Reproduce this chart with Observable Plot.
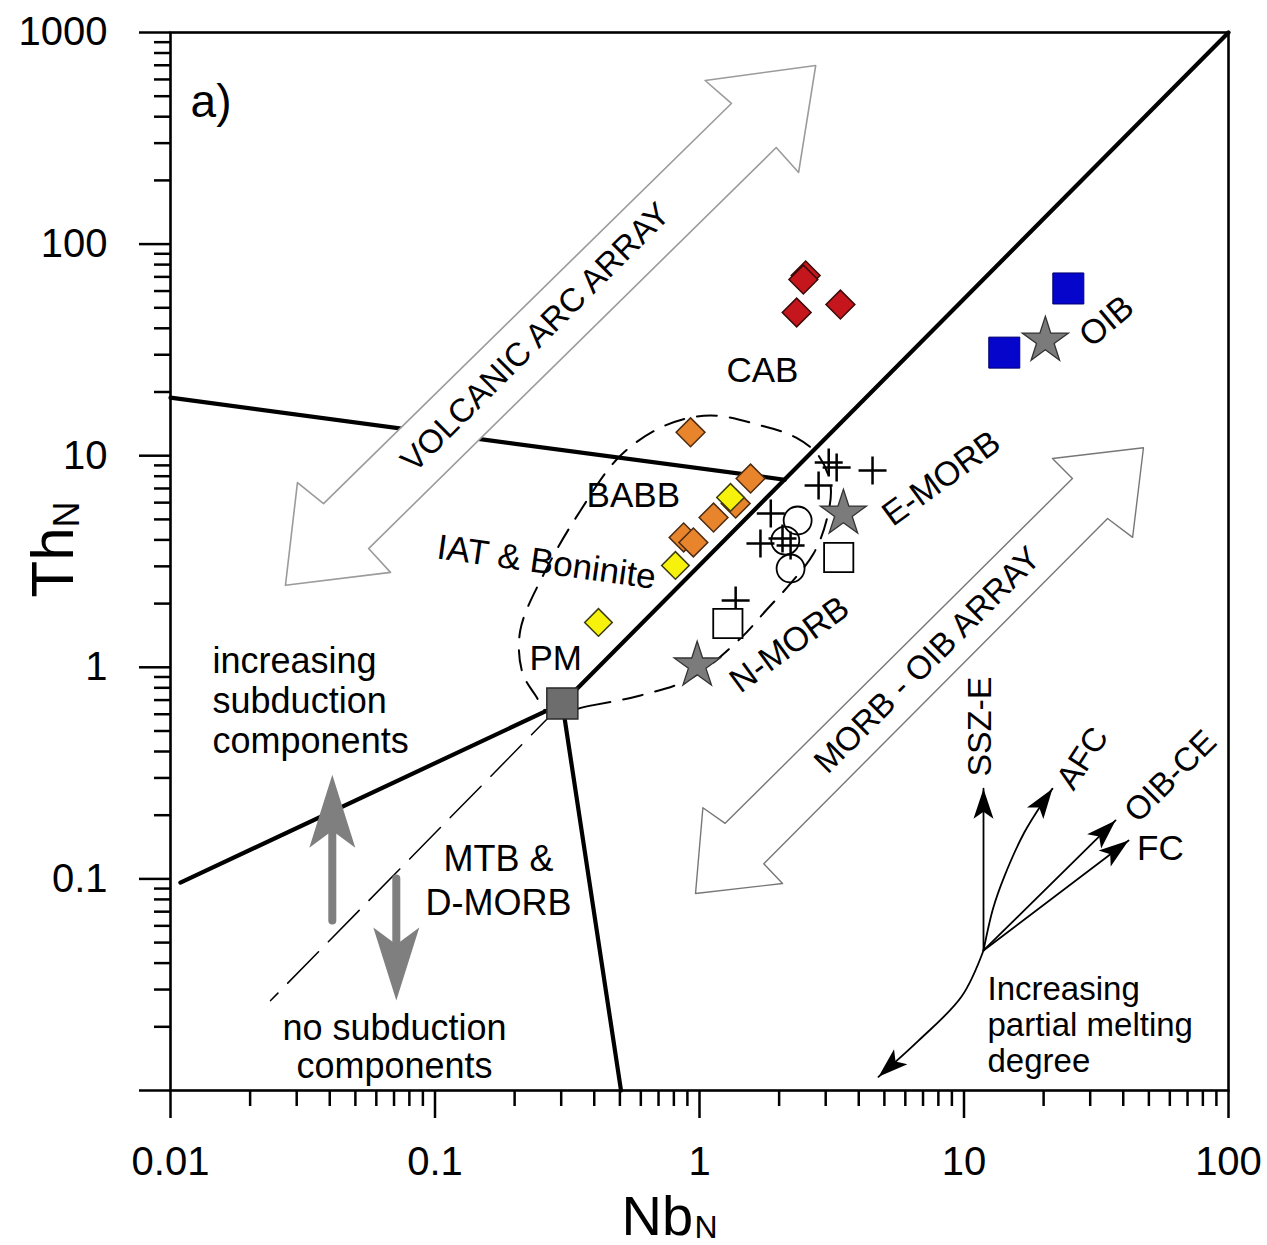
<!DOCTYPE html>
<html>
<head>
<meta charset="utf-8">
<script src="https://cdn.jsdelivr.net/npm/d3@7"></script>
<script src="https://cdn.jsdelivr.net/npm/@observablehq/plot@0.6"></script>
<style>
  html, body { margin: 0; padding: 0; background: #fff; }
  svg { display: block; }
</style>
</head>
<body>
<script>
// ---------------- axes ----------------
const xTicks = [0.01, 0.1, 1, 10, 100];
const xTickLabels = ["0.01", "0.1", "1", "10", "100"];
const yTicks = [0.01, 0.1, 1, 10, 100, 1000];
const yTickLabels = ["", "0.1", "1", "10", "100", "1000"];
const minorSteps = [2, 3, 4, 5, 6, 7, 8, 9];
const xDecades = [0.01, 0.1, 1, 10];
const yDecades = [0.01, 0.1, 1, 10, 100];

// ---------------- samples (NbN, ThN) ----------------
const cabNb = [2.52, 2.47, 2.33, 3.41];
const cabTh = [71.1, 68.0, 47.5, 51.8];
const babbNb = [0.925, 1.56, 1.37, 1.13, 0.871, 0.948];
const babbTh = [12.9, 7.80, 5.94, 5.10, 4.11, 3.89];
const iatNb = [1.31, 0.811, 0.415];
const iatTh = [6.35, 3.03, 1.63];
const oibSampleNb = [24.8, 14.2];
const oibSampleTh = [61.7, 30.7];
const crossNb = [3.08, 4.51, 3.30, 2.82, 1.86, 1.70, 2.06, 2.21, 1.37];
const crossTh = [9.29, 8.51, 8.80, 7.23, 5.33, 3.85, 4.06, 3.76, 2.07];
const circleNb = [2.35, 2.11, 2.21];
const circleTh = [4.94, 3.97, 2.93];
const openSquareNb = [3.36, 1.28];
const openSquareTh = [3.30, 1.61];
const refNames = ["N-MORB", "E-MORB", "OIB"];
const refNb = [0.98, 3.50, 20.3];
const refTh = [1.02, 5.33, 35.0];
const pmNb = [0.303];
const pmTh = [0.675];

// ---------------- boundary lines ----------------
const diagNb = [0.303, 100], diagTh = [0.675, 1000];
const upperNb = [0.01, 2.1], upperTh = [18.8, 7.7];
const lowerNb = [0.0109, 0.303], lowerTh = [0.096, 0.675];
const steepNb = [0.303, 0.505], steepTh = [0.675, 0.01];
const mtbNb = [0.303, 0.0239], mtbTh = [0.675, 0.0266];

// dashed field (closed curve)
const fieldNb = [0.268, 0.388, 0.598, 0.925, 1.43, 1.78, 2.21, 2.70, 3.02, 3.13, 2.82, 2.31, 1.70, 1.10, 0.743, 0.502, 0.355, 0.262, 0.210, 0.214, 0.240];
const fieldTh = [0.611, 0.659, 0.736, 0.885, 1.37, 1.85, 2.49, 3.45, 4.94, 7.23, 10.0, 12.2, 13.9, 15.5, 13.9, 10.0, 5.51, 2.87, 1.49, 0.944, 0.736];

// hollow double arrows (outline vertices)
const vaaNb = [2.75, 2.37, 1.95, 0.0561, 0.0679, 0.0272, 0.0302, 0.0379, 1.32, 1.05];
const vaaTh = [698, 218, 286, 3.64, 2.81, 2.44, 7.47, 5.94, 462, 593];
const moaNb = [47.7, 43.4, 34.9, 1.75, 2.06, 0.966, 1.03, 1.25, 25.7, 21.6];
const moaTh = [10.9, 4.11, 5.05, 0.118, 0.0951, 0.0853, 0.217, 0.183, 7.80, 9.70];

// vectors
const sszNb = [11.85, 11.85], sszTh = [0.0459, 0.267];
const afcNb = [11.85, 12.88, 14.2, 16.9, 20.1, 21.6], afcTh = [0.0459, 0.0725, 0.1026, 0.1657, 0.235, 0.267];
const oibceNb = [11.85, 37.4], oibceTh = [0.0459, 0.189];
const fcNb = [11.85, 41.9], fcTh = [0.0459, 0.152];
const meltNb = [11.85, 9.79, 6.73, 4.75], meltTh = [0.0459, 0.0278, 0.0172, 0.0116];
const upShaftNb = [0.0409, 0.0409], upShaftTh = [0.0636, 0.17];
const upTipNb = [0.0409], upTipTh = [0.311];
const downShaftNb = [0.0714, 0.0714], downShaftTh = [0.1004, 0.05];
const downTipNb = [0.0714], downTipTh = [0.0266];

// ---------------- labels ----------------
const plainLabels = ["CAB", "BABB", "PM", "FC"];
const plainNb = [1.73, 0.562, 0.286, 55.3];
const plainTh = [25.3, 6.48, 1.10, 0.139];
const rotLabels = ["VOLCANIC ARC ARRAY", "MORB - OIB ARRAY", "E-MORB", "N-MORB", "OIB", "IAT & Boninite", "SSZ-E", "AFC", "OIB-CE"];
const rotNb = [0.240, 7.28, 8.22, 2.19, 34.6, 0.264, 11.5, 28.1, 60.4];
const rotTh = [36.2, 1.08, 7.80, 1.28, 43.1, 3.13, 0.525, 0.371, 0.305];
const blockLabels = ["increasing\nsubduction\ncomponents", "MTB &\nD-MORB", "no subduction\ncomponents", "Increasing\npartial melting\ndegree"];
const blockNb = [0.01442, 0.1738, 0.0703, 12.27];
const blockTh = [0.697, 0.1004, 0.01603, 0.0205];
const panelLabel = ["a)"], panelNb = [0.01191], panelTh = [467];

// ---------------- layout ----------------
const W = 1267, H = 1245;
const M = {left: 170, right: 39, top: 32, bottom: 155};
const FONT = '"Liberation Sans", Arial, Helvetica, sans-serif';
const xDomain = [0.01, 100], yDomain = [0.01, 1000];

const sx = Plot.scale({x: {type: "log", domain: xDomain, range: [M.left, W - M.right]}});
const sy = Plot.scale({y: {type: "log", domain: yDomain, range: [H - M.bottom, M.top]}});
function angle(x0, y0, x1, y1) {
  const dx = sx.apply(x1) - sx.apply(x0);
  const dy = sy.apply(y1) - sy.apply(y0);
  return Math.atan2(dx, -dy) * 180 / Math.PI;
}
const vectorPaths = [[sszNb, sszTh], [afcNb, afcTh], [oibceNb, oibceTh], [fcNb, fcTh], [meltNb, meltTh]];
const heads = vectorPaths.map(([xs, ys]) => {
  const n = xs.length;
  return {nb: xs[n - 1], th: ys[n - 1], angle: angle(xs[n - 2], ys[n - 2], xs[n - 1], ys[n - 1])};
});

const thinHead = {draw(ctx) { ctx.moveTo(0, 0); ctx.lineTo(10, 30); ctx.lineTo(0, 23); ctx.lineTo(-10, 30); ctx.closePath(); }};
const bigHead = {draw(ctx) { ctx.moveTo(0, 0); ctx.lineTo(23, 73); ctx.lineTo(0, 56); ctx.lineTo(-23, 73); ctx.closePath(); }};
const crossSym = {draw(ctx, size) { const r = Math.sqrt(size / Math.PI); ctx.moveTo(-r, 0); ctx.lineTo(r, 0); ctx.moveTo(0, -r); ctx.lineTo(0, r); }};

const idx = (a) => a.map((_, i) => i);
const line = (xs, ys, o) => Plot.line(idx(xs), {x: xs, y: ys, ...o});
const dots = (xs, ys, o) => Plot.dot(idx(xs), {x: xs, y: ys, ...o});

const xMinor = xDecades.flatMap(d => minorSteps.map(k => d * k));
const yMinor = yDecades.flatMap(d => minorSteps.map(k => d * k));

const rotStyle = [
  {rotate: -45, fontSize: 33}, {rotate: -45, fontSize: 33}, {rotate: -36, fontSize: 34},
  {rotate: -36, fontSize: 34}, {rotate: -40, fontSize: 34}, {rotate: 8, fontSize: 35},
  {rotate: -90, fontSize: 34}, {rotate: -57, fontSize: 33}, {rotate: -45, fontSize: 33}
];
const blockStyle = [
  {textAnchor: "start", lineHeight: 1.11, fontSize: 36},
  {textAnchor: "middle", lineHeight: 1.22, fontSize: 36},
  {textAnchor: "middle", lineHeight: 1.05, fontSize: 36},
  {textAnchor: "start", lineHeight: 1.08, fontSize: 33}
];

const chart = Plot.plot({
  width: W, height: H,
  marginLeft: M.left, marginRight: M.right, marginTop: M.top, marginBottom: M.bottom,
  x: {type: "log", domain: xDomain, axis: null},
  y: {type: "log", domain: yDomain, axis: null},
  style: {fontFamily: FONT, fontSize: "36px", color: "black", background: "white", overflow: "visible"},
  marks: [
    // boundaries
    line(mtbNb, mtbTh, {stroke: "black", strokeWidth: 1.5, strokeDasharray: "44,14"}),
    line(diagNb, diagTh, {stroke: "black", strokeWidth: 4.2}),
    line(upperNb, upperTh, {stroke: "black", strokeWidth: 4.2}),
    line(lowerNb, lowerTh, {stroke: "black", strokeWidth: 4.2}),
    line(steepNb, steepTh, {stroke: "black", strokeWidth: 4.2}),
    // hollow trend arrows
    line(vaaNb, vaaTh, {curve: "linear-closed", fill: "white", stroke: "#9b9b9b", strokeWidth: 1.6}),
    line(moaNb, moaTh, {curve: "linear-closed", fill: "white", stroke: "#777", strokeWidth: 1.4}),
    // dashed field
    line(fieldNb, fieldTh, {curve: "catmull-rom-closed", stroke: "black", strokeWidth: 2, strokeDasharray: "20,13"}),
    // grey subduction arrows
    line(upShaftNb, upShaftTh, {stroke: "#7f7f7f", strokeWidth: 8}),
    line(downShaftNb, downShaftTh, {stroke: "#7f7f7f", strokeWidth: 8}),
    dots(upTipNb, upTipTh, {symbol: bigHead, r: 20, fill: "#7f7f7f", stroke: "none", rotate: 0}),
    dots(downTipNb, downTipTh, {symbol: bigHead, r: 20, fill: "#7f7f7f", stroke: "none", rotate: 180}),
    // vectors
    line(sszNb, sszTh, {stroke: "black", strokeWidth: 1.8}),
    line(afcNb, afcTh, {stroke: "black", strokeWidth: 1.8, curve: "catmull-rom"}),
    line(oibceNb, oibceTh, {stroke: "black", strokeWidth: 1.8}),
    line(fcNb, fcTh, {stroke: "black", strokeWidth: 1.8}),
    line(meltNb, meltTh, {stroke: "black", strokeWidth: 1.8, curve: "catmull-rom"}),
    Plot.dot(heads, {x: "nb", y: "th", rotate: "angle", symbol: thinHead, r: 15, fill: "black", stroke: "none"}),
    // samples
    dots(cabNb, cabTh, {symbol: "square", rotate: 45, r: 11.5, fill: "#c4161c", stroke: "#3a0a0a", strokeWidth: 1.5}),
    dots(babbNb, babbTh, {symbol: "square", rotate: 45, r: 11.5, fill: "#e8842c", stroke: "#4a2a10", strokeWidth: 1.5}),
    dots(iatNb, iatTh, {symbol: "square", rotate: 45, r: 11, fill: "#f7f20c", stroke: "#3a3a10", strokeWidth: 1.5}),
    dots(oibSampleNb, oibSampleTh, {symbol: "square", r: 17.5, fill: "#0505cc", stroke: "#00006e", strokeWidth: 1}),
    dots(crossNb, crossTh, {symbol: crossSym, r: 14, fill: "none", stroke: "black", strokeWidth: 2.5}),
    dots(circleNb, circleTh, {symbol: "circle", r: 14, fill: "none", stroke: "black", strokeWidth: 1.8}),
    dots(openSquareNb, openSquareTh, {symbol: "square", r: 16.5, fill: "white", stroke: "black", strokeWidth: 1.8}),
    dots(refNb, refTh, {symbol: "star", r: 14.5, fill: "#7b7b7b", stroke: "#333", strokeWidth: 1.3, title: (i) => refNames[i]}),
    dots(pmNb, pmTh, {symbol: "square", r: 17.5, fill: "#6d6d6d", stroke: "#2a2a2a", strokeWidth: 1.5}),
    // labels
    Plot.text(idx(plainLabels), {x: plainNb, y: plainTh, text: (i) => plainLabels[i], fontSize: 35, fill: "black"}),
    ...rotLabels.map((t, i) => Plot.text([i], {x: () => rotNb[i], y: () => rotTh[i], text: () => t, fill: "black", ...rotStyle[i]})),
    ...blockLabels.map((t, i) => Plot.text([i], {x: () => blockNb[i], y: () => blockTh[i], text: () => t, fill: "black", ...blockStyle[i]})),
    Plot.text(idx(panelLabel), {x: panelNb, y: panelTh, text: (i) => panelLabel[i], fontSize: 46, textAnchor: "start", fill: "black"}),
    // axis titles
    Plot.text(["Th"], {frameAnchor: "left", dx: -98, dy: 1, rotate: -90, fontSize: 60, textAnchor: "middle", lineAnchor: "bottom", fill: "black"}),
    Plot.text(["N"], {frameAnchor: "left", dx: -92, dy: -34, rotate: -90, fontSize: 36, textAnchor: "start", lineAnchor: "bottom", fill: "black"}),
    Plot.text(["Nb"], {frameAnchor: "bottom", dx: -78, dy: 144, fontSize: 56, textAnchor: "start", lineAnchor: "bottom", fill: "black"}),
    Plot.text(["N"], {frameAnchor: "bottom", dx: -5, dy: 147, fontSize: 32, textAnchor: "start", lineAnchor: "bottom", fill: "black"}),
    // axes
    Plot.axisX({ticks: xMinor, tickSize: 16, tickFormat: () => "", strokeWidth: 2.5, label: null}),
    Plot.axisY({ticks: yMinor, tickSize: 16, tickFormat: () => "", strokeWidth: 2.5, label: null}),
    Plot.axisX({ticks: xTicks, tickSize: 28, tickPadding: 28, fontSize: 40, strokeWidth: 2.5, label: null,
      tickFormat: (d) => xTickLabels[xTicks.indexOf(d)]}),
    Plot.axisY({ticks: yTicks, tickSize: 31, tickPadding: 32, fontSize: 40, strokeWidth: 2.5, label: null,
      tickFormat: (d) => yTickLabels[yTicks.indexOf(d)]}),
    Plot.frame({stroke: "black", strokeWidth: 2.6})
  ]
});
document.body.appendChild(chart);
</script>
</body>
</html>
